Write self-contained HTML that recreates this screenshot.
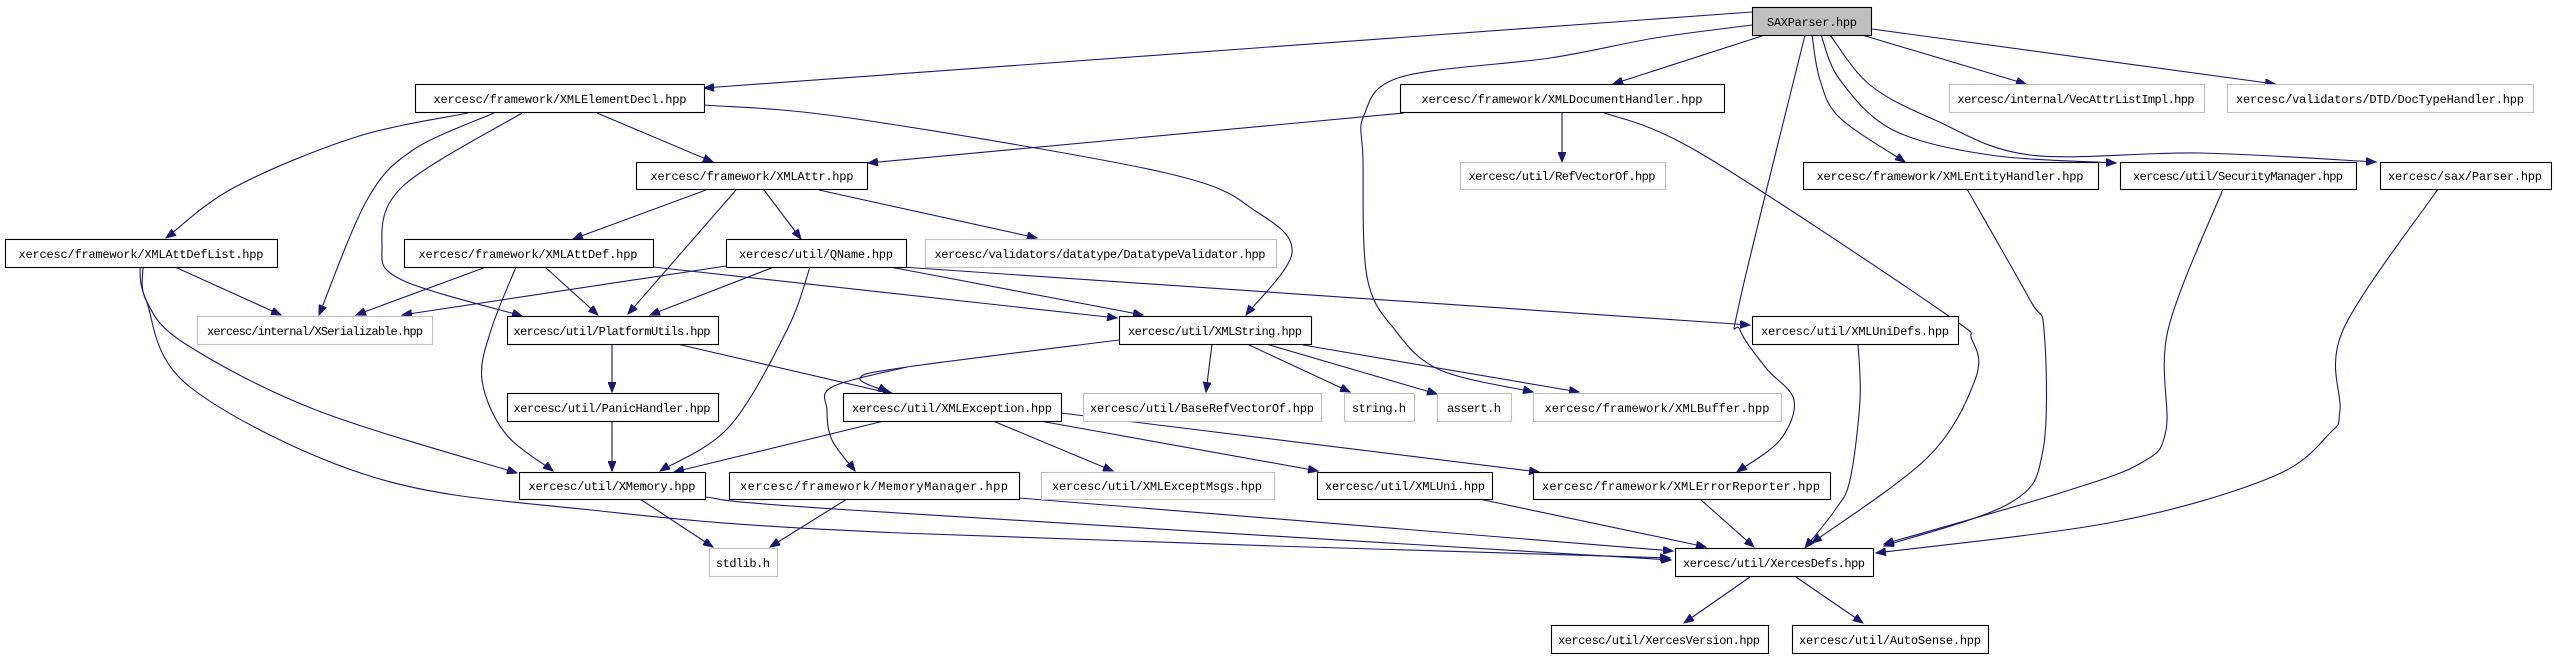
<!DOCTYPE html>
<html><head><meta charset="utf-8"><style>
html,body{margin:0;padding:0;background:#fff;}
svg{display:block;}
text{font-family:"Liberation Mono","DejaVu Sans Mono",monospace;font-size:12px;fill:#000;}
.e{fill:none;stroke:#191970;stroke-width:1.1;stroke-linejoin:round;}
</style></head><body>
<svg id="g" width="2554" height="658" viewBox="0 0 2554 658" xmlns="http://www.w3.org/2000/svg">
<defs><marker id="a" markerUnits="userSpaceOnUse" markerWidth="11" markerHeight="8" refX="10" refY="4" orient="auto"><path d="M0,0 L10,4 L0,8 z" fill="#191970" stroke="#191970"/></marker></defs>
<g class="e" marker-end="url(#a)">
<path d="M1752,12 L704,88"/>
<path d="M1765,35 L1613,84"/>
<path d="M1862,35 L2026,84"/>
<path d="M1872,29 L2275,84"/>
<path d="M1812,35 L1820,80 L1840,118 L1905,162"/>
<path d="M1821,35 L1840,80 L1893,130 L1990,155 L2116,163"/>
<path d="M1830,35 L1870,85 L1935,120 L2030,155 L2200,153 L2376,162"/>
<path d="M1805,35 L1740,300 L1740,330 L1766,368 L1794,400 L1780,440 L1737,472"/>
<path d="M1752,25 L1655,38 L1550,58 L1401,77 L1364,115 L1363,160 L1367,277 L1395,330 L1440,370 L1533,392"/>
<path d="M1602,112 L1700,153 L1940,310 L1972,340 L1975,380 L1928,457 L1812,543"/>
<path d="M1967,189 L2030,300 L2044,330 L2043,450 L2010,503 L1884,546"/>
<path d="M2223,189 L2168,330 L2166,430 L2141,463 L2060,493 L1884,544"/>
<path d="M2438,189 L2343,330 L2340,410 L2330,433 L2272,477 L2114,522 L1876,553"/>
<path d="M1858,344 L1860,400 L1850,480 L1835,510 L1805,548"/>
<path d="M1700,499 L1754,547"/>
<path d="M1750,577 L1684,623"/>
<path d="M1796,577 L1863,623"/>
<path d="M468,113 L356,137 L235,187 L166,238"/>
<path d="M494,113 L413,150 L367,200 L319,315"/>
<path d="M522,113 L402,187 L382,247 L402,280 L522,316"/>
<path d="M597,113 L713,162"/>
<path d="M704,105 L850,118 L1166,173 L1257,212 L1292,253 L1246,315"/>
<path d="M1404,113 L868,163"/>
<path d="M1562,112 L1562,162"/>
<path d="M706,190 L573,239"/>
<path d="M736,190 L628,314"/>
<path d="M764,190 L801,239"/>
<path d="M819,190 L1037,238"/>
<path d="M175,267 L281,315"/>
<path d="M143,267 L146,300 L184,343 L316,410 L517,473"/>
<path d="M140,267 L146,300 L190,387 L373,477 L591,510 L900,533 L1670,558"/>
<path d="M486,267 L356,315"/>
<path d="M545,267 L598,315"/>
<path d="M516,267 L491,330 L482,380 L505,433 L553,471"/>
<path d="M653,267 L1117,318"/>
<path d="M726,266 L402,315"/>
<path d="M774,267 L650,315"/>
<path d="M810,267 L787,330 L729,427 L660,471"/>
<path d="M890,267 L1143,315"/>
<path d="M902,267 L1750,325"/>
<path d="M612,344 L612,392"/>
<path d="M677,344 L893,394"/>
<path d="M612,421 L612,471"/>
<path d="M1119,340 L907,367 L860,378 L888,392"/>
<path d="M907,367 L832,387 L827,410 L832,440 L855,471"/>
<path d="M1212,344 L1206,392"/>
<path d="M1247,344 L1350,392"/>
<path d="M1266,344 L1437,394"/>
<path d="M1303,345 L1579,392"/>
<path d="M884,421 L674,472"/>
<path d="M993,421 L1113,471"/>
<path d="M1040,421 L1318,471"/>
<path d="M1061,413 L1539,472"/>
<path d="M640,499 L713,547"/>
<path d="M705,497 L850,510 L1671,560"/>
<path d="M847,499 L770,547"/>
<path d="M1019,498 L1673,551"/>
<path d="M1479,499 L1706,547"/>
</g>
<g stroke-width="1.1">
<rect x="1752.5" y="7.5" width="119" height="28" fill="#bfbfbf" stroke="#000"/>
<rect x="415.5" y="84.5" width="289" height="28" fill="#fff" stroke="#000"/>
<rect x="1400.5" y="84.5" width="324" height="28" fill="#fff" stroke="#000"/>
<rect x="1949.5" y="84.5" width="255" height="28" fill="#fff" stroke="#bfbfbf"/>
<rect x="2227.5" y="84.5" width="306" height="28" fill="#fff" stroke="#bfbfbf"/>
<rect x="636.5" y="162.5" width="231" height="27" fill="#fff" stroke="#000"/>
<rect x="1460.5" y="162.5" width="205" height="27" fill="#fff" stroke="#bfbfbf"/>
<rect x="1803.5" y="162.5" width="295" height="27" fill="#fff" stroke="#000"/>
<rect x="2120.5" y="162.5" width="236" height="27" fill="#fff" stroke="#000"/>
<rect x="2380.5" y="162.5" width="171" height="27" fill="#fff" stroke="#000"/>
<rect x="5.5" y="239.5" width="272" height="28" fill="#fff" stroke="#000"/>
<rect x="404.5" y="239.5" width="249" height="28" fill="#fff" stroke="#000"/>
<rect x="726.5" y="239.5" width="180" height="28" fill="#fff" stroke="#000"/>
<rect x="925.5" y="239.5" width="351" height="28" fill="#fff" stroke="#bfbfbf"/>
<rect x="197.5" y="316.5" width="235" height="28" fill="#fff" stroke="#bfbfbf"/>
<rect x="507.5" y="316.5" width="211" height="28" fill="#fff" stroke="#000"/>
<rect x="1119.5" y="316.5" width="192" height="28" fill="#fff" stroke="#000"/>
<rect x="1752.5" y="316.5" width="206" height="28" fill="#fff" stroke="#000"/>
<rect x="507.5" y="393.5" width="211" height="28" fill="#fff" stroke="#000"/>
<rect x="843.5" y="393.5" width="218" height="28" fill="#fff" stroke="#000"/>
<rect x="1083.5" y="393.5" width="238" height="28" fill="#fff" stroke="#bfbfbf"/>
<rect x="1344.5" y="393.5" width="70" height="28" fill="#fff" stroke="#bfbfbf"/>
<rect x="1437.5" y="393.5" width="74" height="28" fill="#fff" stroke="#bfbfbf"/>
<rect x="1533.5" y="393.5" width="248" height="28" fill="#fff" stroke="#bfbfbf"/>
<rect x="519.5" y="472.5" width="186" height="27" fill="#fff" stroke="#000"/>
<rect x="729.5" y="472.5" width="290" height="27" fill="#fff" stroke="#000"/>
<rect x="1041.5" y="472.5" width="233" height="27" fill="#fff" stroke="#bfbfbf"/>
<rect x="1317.5" y="472.5" width="175" height="27" fill="#fff" stroke="#000"/>
<rect x="1533.5" y="472.5" width="297" height="27" fill="#fff" stroke="#000"/>
<rect x="709.5" y="548.5" width="68" height="28" fill="#fff" stroke="#bfbfbf"/>
<rect x="1675.5" y="548.5" width="198" height="28" fill="#fff" stroke="#000"/>
<rect x="1551.5" y="625.5" width="217" height="28" fill="#fff" stroke="#000"/>
<rect x="1792.5" y="625.5" width="196" height="28" fill="#fff" stroke="#000"/>
</g>
<g text-anchor="middle" lengthAdjust="spacingAndGlyphs">
<text x="1812" y="26" textLength="90">SAXParser.hpp</text>
<text x="560" y="103" textLength="253">xercesc/framework/XMLElementDecl.hpp</text>
<text x="1562" y="103" textLength="281">xercesc/framework/XMLDocumentHandler.hpp</text>
<text x="2076" y="103" textLength="237">xercesc/internal/VecAttrListImpl.hpp</text>
<text x="2380" y="103" textLength="288">xercesc/validators/DTD/DocTypeHandler.hpp</text>
<text x="752" y="180" textLength="203">xercesc/framework/XMLAttr.hpp</text>
<text x="1562" y="180" textLength="187">xercesc/util/RefVectorOf.hpp</text>
<text x="1950" y="180" textLength="267">xercesc/framework/XMLEntityHandler.hpp</text>
<text x="2238" y="180" textLength="210">xercesc/util/SecurityManager.hpp</text>
<text x="2465" y="180" textLength="154">xercesc/sax/Parser.hpp</text>
<text x="141" y="258" textLength="245">xercesc/framework/XMLAttDefList.hpp</text>
<text x="528" y="258" textLength="219">xercesc/framework/XMLAttDef.hpp</text>
<text x="816" y="258" textLength="154">xercesc/util/QName.hpp</text>
<text x="1100" y="258" textLength="331">xercesc/validators/datatype/DatatypeValidator.hpp</text>
<text x="315" y="335" textLength="216">xercesc/internal/XSerializable.hpp</text>
<text x="612" y="335" textLength="197">xercesc/util/PlatformUtils.hpp</text>
<text x="1215" y="335" textLength="174">xercesc/util/XMLString.hpp</text>
<text x="1855" y="335" textLength="188">xercesc/util/XMLUniDefs.hpp</text>
<text x="612" y="412" textLength="197">xercesc/util/PanicHandler.hpp</text>
<text x="952" y="412" textLength="200">xercesc/util/XMLException.hpp</text>
<text x="1202" y="412" textLength="224">xercesc/util/BaseRefVectorOf.hpp</text>
<text x="1379" y="412" textLength="54">string.h</text>
<text x="1474" y="412" textLength="54">assert.h</text>
<text x="1657" y="412" textLength="225">xercesc/framework/XMLBuffer.hpp</text>
<text x="612" y="490" textLength="167">xercesc/util/XMemory.hpp</text>
<text x="874" y="490" textLength="268">xercesc/framework/MemoryManager.hpp</text>
<text x="1157" y="490" textLength="210">xercesc/util/XMLExceptMsgs.hpp</text>
<text x="1405" y="490" textLength="160">xercesc/util/XMLUni.hpp</text>
<text x="1681" y="490" textLength="278">xercesc/framework/XMLErrorReporter.hpp</text>
<text x="743" y="567" textLength="54">stdlib.h</text>
<text x="1774" y="567" textLength="182">xercesc/util/XercesDefs.hpp</text>
<text x="1659" y="644" textLength="202">xercesc/util/XercesVersion.hpp</text>
<text x="1890" y="644" textLength="182">xercesc/util/AutoSense.hpp</text>
</g>
</svg>
<script>
(function(){
var ps=document.querySelectorAll('.e path');
for(var i=0;i<ps.length;i++){
 var d=ps[i].getAttribute('d');
 var nums=d.replace(/[ML]/g,' ').trim().split(/[\s,]+/).map(Number);
 var pts=[];for(var j=0;j<nums.length;j+=2)pts.push([nums[j],nums[j+1]]);
 if(pts.length<3)continue;
 var s='M'+pts[0][0]+','+pts[0][1];
 for(var k=0;k<pts.length-1;k++){
  var p0=pts[k-1]||pts[k],p1=pts[k],p2=pts[k+1],p3=pts[k+2]||pts[k+1];
  var c1x=p1[0]+(p2[0]-p0[0])/6,c1y=p1[1]+(p2[1]-p0[1])/6;
  var c2x=p2[0]-(p3[0]-p1[0])/6,c2y=p2[1]-(p3[1]-p1[1])/6;
  s+=' C'+c1x.toFixed(1)+','+c1y.toFixed(1)+' '+c2x.toFixed(1)+','+c2y.toFixed(1)+' '+p2[0]+','+p2[1];
 }
 ps[i].setAttribute('d',s);
}
})();
</script>
</body></html>
